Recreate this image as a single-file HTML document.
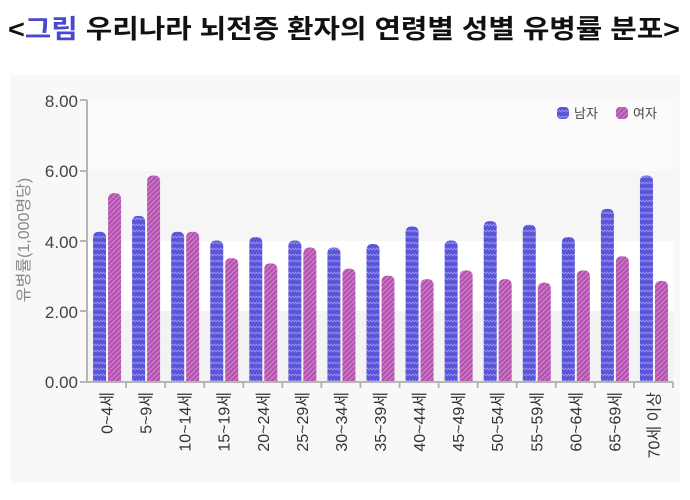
<!DOCTYPE html>
<html><head><meta charset="utf-8"><style>
body{margin:0;background:#fff;width:690px;height:495px;overflow:hidden;font-family:"Liberation Sans","Noto Sans CJK KR",sans-serif}
</style></head><body>
<svg width="690" height="495" xmlns="http://www.w3.org/2000/svg" font-family="Liberation Sans, Noto Sans CJK KR, sans-serif">
<defs>
<pattern id="pm" width="6" height="6" patternUnits="userSpaceOnUse"><rect width="6" height="6" fill="#5a55d8"/><path d="M0 4 L1.5 2 L3 4 L4.5 2 L6 4" stroke="#9a98ee" stroke-width="0.8" fill="none"/></pattern>
<pattern id="pf" width="5" height="5" patternUnits="userSpaceOnUse"><rect width="5" height="5" fill="#b454b0"/><path d="M0 5 L5 0 M-1 1 L1 -1 M4 6 L6 4" stroke="#d890d4" stroke-width="0.8"/></pattern>
</defs>
<text x="8" y="38" font-size="26" font-weight="bold" fill="#111" textLength="672" lengthAdjust="spacingAndGlyphs">&lt;<tspan fill="#4a48d0">그림</tspan> 우리나라 뇌전증 환자의 연령별 성별 유병률 분포&gt;</text>
<rect x="10" y="75" width="670" height="408" fill="#f8f8f8"/>
<rect x="87" y="100" width="586" height="71" fill="#fbfbfb"/>
<rect x="87" y="171" width="586" height="70" fill="#f6f6f6"/>
<rect x="87" y="241" width="586" height="70" fill="#ffffff"/>
<rect x="87" y="311" width="586" height="70" fill="#f3f3f3"/>
<g font-size="17" fill="#444" text-anchor="end">
<text x="78" y="107">8.00</text><text x="78" y="177">6.00</text><text x="78" y="248">4.00</text><text x="78" y="318">2.00</text><text x="78" y="388">0.00</text></g>
<text transform="translate(29,240) rotate(-90)" font-size="16" fill="#888" text-anchor="middle">유병률(1,000명당)</text>
<g id="bars"></g>
<line x1="87" y1="100" x2="87" y2="383" stroke="#b5b5b5" stroke-width="2"/>
<line x1="80" y1="100" x2="87" y2="100" stroke="#b5b5b5" stroke-width="2"/>
<line x1="80" y1="171" x2="87" y2="171" stroke="#b5b5b5" stroke-width="2"/>
<line x1="80" y1="241" x2="87" y2="241" stroke="#b5b5b5" stroke-width="2"/>
<line x1="80" y1="311" x2="87" y2="311" stroke="#b5b5b5" stroke-width="2"/>
<line x1="80" y1="382" x2="673" y2="382" stroke="#b5b5b5" stroke-width="2"/>
<rect x="557" y="107" width="12" height="12" rx="4" fill="url(#pm)"/><text x="574" y="118" font-size="13" fill="#444">남자</text>
<rect x="616" y="107" width="12" height="12" rx="4" fill="url(#pf)"/><text x="633" y="118" font-size="13" fill="#444">여자</text>
<g id="lab"></g>
</svg>
<script>
var m=[4.25,4.7,4.25,4.0,4.1,4.0,3.8,3.9,4.4,4.0,4.55,4.45,4.1,4.9,5.85];
var f=[5.35,5.85,4.25,3.5,3.35,3.8,3.2,3.0,2.9,3.15,2.9,2.8,3.15,3.55,2.85];
var L=["0~4세","5~9세","10~14세","15~19세","20~24세","25~29세","30~34세","35~39세","40~44세","45~49세","50~54세","55~59세","60~64세","65~69세","70세 이상"];
var b=document.getElementById("bars"),lb=document.getElementById("lab"),w=586/15,s="";
function bar(x,v,p){var h=v*35.125,y=381-h,r=6;return '<path d="M'+x+' 381 V'+(y+r)+' Q'+x+' '+y+' '+(x+r)+' '+y+' H'+(x+13-r)+' Q'+(x+13)+' '+y+' '+(x+13)+' '+(y+r)+' V381 Z" fill="url(#'+p+')"/>';}
var t="";
for(var i=0;i<15;i++){var c=87+w*(i+0.5);s+=bar(c-13.5,m[i],"pm")+bar(c+1.5,f[i],"pf");
t+='<line x1="'+(87+w*(i+1))+'" y1="382" x2="'+(87+w*(i+1))+'" y2="388" stroke="#b5b5b5" stroke-width="2"/>';
t+='<text transform="translate('+(c+6)+',392) rotate(-90)" font-size="16" fill="#333" text-anchor="end">'+L[i]+'</text>';}
b.innerHTML=s;lb.innerHTML=t;
</script>
</body></html>
